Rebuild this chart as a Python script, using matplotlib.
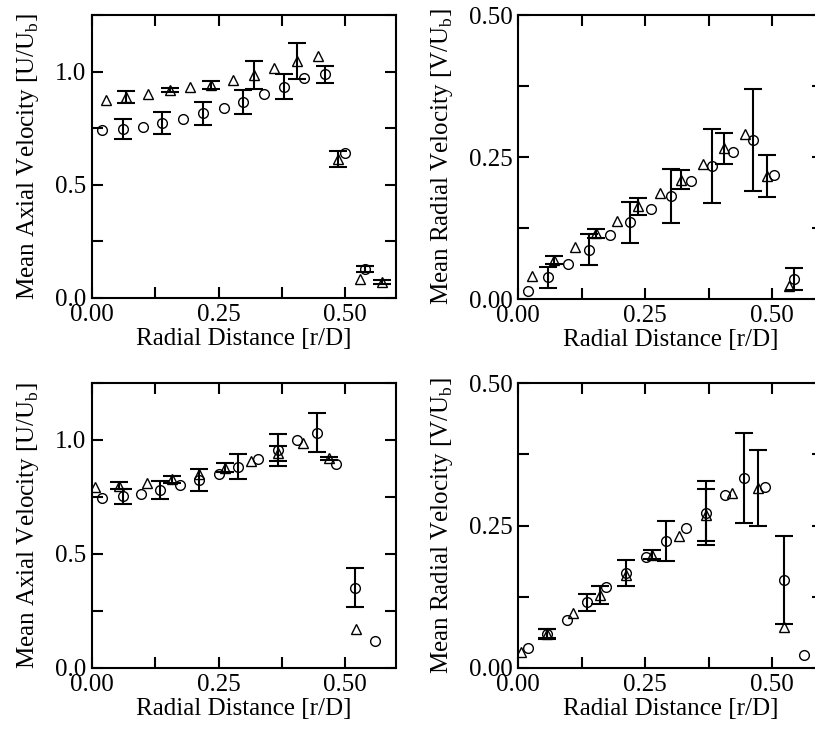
# Mean axial and radial velocity profiles vs radial distance,
# two data sets per panel (circles / triangles) with error bars.

import numpy as np
import matplotlib
matplotlib.use('Agg')
import matplotlib.pyplot as plt
from matplotlib.ticker import MultipleLocator

plt.rcParams['font.family'] = ['Liberation Serif', 'DejaVu Serif']
plt.rcParams['mathtext.fontset'] = 'custom'
plt.rcParams['mathtext.rm'] = 'Liberation Serif'
plt.rcParams['font.size'] = 18

nan = np.nan

# ---- top left: axial velocity, case 1 ----
tl_circ_x   = [0.020, 0.061, 0.100, 0.139, 0.179, 0.219, 0.260, 0.299, 0.339, 0.379, 0.418, 0.459, 0.499, 0.539]
tl_circ_y   = [0.743, 0.747, 0.757, 0.772, 0.791, 0.815, 0.838, 0.866, 0.899, 0.934, 0.972, 0.988, 0.640, 0.128]
tl_circ_err = [nan,   0.045, nan,   0.048, nan,   0.051, nan,   0.054, nan,   0.057, nan,   0.037, nan,   0.013]
tl_tri_x    = [0.027, 0.067, 0.110, 0.154, 0.193, 0.234, 0.278, 0.320, 0.360, 0.405, 0.446, 0.486, 0.529, 0.572]
tl_tri_y    = [0.875, 0.887, 0.900, 0.919, 0.931, 0.941, 0.963, 0.985, 1.015, 1.047, 1.069, 0.614, 0.084, 0.071]
tl_tri_err  = [nan,   0.027, nan,   0.009, nan,   0.018, nan,   0.060, nan,   0.080, nan,   0.037, nan,   0.008]

# ---- top right: radial velocity, case 1 ----
tr_circ_x   = [0.020, 0.059, 0.099, 0.140, 0.181, 0.221, 0.261, 0.301, 0.341, 0.382, 0.422, 0.463, 0.503, 0.543]
tr_circ_y   = [0.014, 0.038, 0.061, 0.087, 0.112, 0.135, 0.159, 0.181, 0.207, 0.234, 0.259, 0.280, 0.218, 0.035]
tr_circ_err = [nan,   0.019, nan,   0.028, nan,   0.036, nan,   0.048, nan,   0.065, nan,   0.090, nan,   0.020]
tr_tri_x    = [0.027, 0.070, 0.112, 0.153, 0.195, 0.237, 0.280, 0.321, 0.364, 0.406, 0.447, 0.490, 0.533]
tr_tri_y    = [0.041, 0.068, 0.092, 0.116, 0.138, 0.163, 0.186, 0.210, 0.237, 0.265, 0.290, 0.216, 0.023]
tr_tri_err  = [nan,   0.007, nan,   0.008, nan,   0.015, nan,   0.017, nan,   0.027, nan,   0.037, nan]

# ---- bottom left: axial velocity, case 2 ----
bl_circ_x   = [0.020, 0.061, 0.096, 0.135, 0.173, 0.211, 0.250, 0.288, 0.327, 0.368, 0.404, 0.444, 0.482, 0.520, 0.559]
bl_circ_y   = [0.747, 0.753, 0.765, 0.779, 0.803, 0.825, 0.853, 0.882, 0.916, 0.956, 1.000, 1.032, 0.894, 0.353, 0.119]
bl_circ_err = [nan,   0.032, nan,   0.039, nan,   0.047, nan,   0.055, nan,   0.070, nan,   0.085, nan,   0.087, nan]
bl_tri_x    = [0.005, 0.054, 0.108, 0.158, 0.211, 0.263, 0.314, 0.368, 0.416, 0.468, 0.521]
bl_tri_y    = [0.794, 0.800, 0.810, 0.828, 0.850, 0.879, 0.909, 0.941, 0.987, 0.920, 0.169]
bl_tri_err  = [nan,   0.015, nan,   0.015, nan,   0.019, nan,   0.034, nan,   0.007, nan]

# ---- bottom right: radial velocity, case 2 ----
br_circ_x   = [0.020, 0.057, 0.096, 0.135, 0.174, 0.212, 0.251, 0.291, 0.330, 0.369, 0.407, 0.445, 0.485, 0.523, 0.563]
br_circ_y   = [0.035, 0.060, 0.085, 0.115, 0.142, 0.166, 0.195, 0.223, 0.245, 0.272, 0.303, 0.334, 0.318, 0.154, 0.023]
br_circ_err = [nan,   0.009, nan,   0.015, nan,   0.023, nan,   0.035, nan,   0.056, nan,   0.079, nan,   0.077, nan]
br_tri_x    = [0.005, 0.057, 0.109, 0.161, 0.212, 0.264, 0.317, 0.369, 0.421, 0.472, 0.523]
br_tri_y    = [0.028, 0.060, 0.097, 0.128, 0.164, 0.199, 0.232, 0.268, 0.307, 0.316, 0.072]
br_tri_err  = [nan,   0.008, nan,   0.015, nan,   0.008, nan,   0.046, nan,   0.066, nan]

xlabel  = 'Radial Distance [r/D]'
ylab_u  = r'Mean Axial Velocity [U/U$_\mathrm{b}$]'
ylab_v  = r'Mean Radial Velocity [V/U$_\mathrm{b}$]'

W, H = 815, 731
fig = plt.figure(figsize=(W/100, H/100), dpi=100)

def px_axes(left, top, right, bottom):
    return fig.add_axes([left/W, 1 - bottom/H, (right-left)/W, (bottom-top)/H])

def draw_series(ax, x, y, err, marker):
    x = np.array(x); y = np.array(y); err = np.array(err)
    m = ~np.isnan(err)
    ax.errorbar(x[m], y[m], yerr=err[m], fmt='none', ecolor='black',
                elinewidth=1.5, capsize=6.5, capthick=1.5, zorder=2)
    ax.plot(x, y, linestyle='none', marker=marker, markersize=7,
            markerfacecolor='none', markeredgecolor='black',
            markeredgewidth=1.0, zorder=3)

def style_axes(ax, ymax, ymajor, fmt, ylab, ypad):
    ax.set_xlim(0, 0.6)
    ax.set_ylim(0, ymax)
    ax.xaxis.set_major_locator(MultipleLocator(0.25))
    ax.xaxis.set_minor_locator(MultipleLocator(0.125))
    ax.yaxis.set_major_locator(MultipleLocator(ymajor))
    ax.yaxis.set_minor_locator(MultipleLocator(ymajor/2))
    ax.xaxis.set_major_formatter(plt.FormatStrFormatter('%.2f'))
    ax.yaxis.set_major_formatter(plt.FormatStrFormatter(fmt))
    ax.tick_params(which='both', direction='in', top=True, right=True,
                   length=8, width=1.5, labelsize=18, pad=4)
    for s in ax.spines.values():
        s.set_linewidth(1.5)
    ax.set_xlabel(xlabel, fontsize=18, labelpad=2)
    ax.set_ylabel(ylab, fontsize=18, labelpad=ypad)

ax_tl = px_axes(92, 15, 396, 298)
ax_tr = px_axes(518, 15, 823, 299)
ax_bl = px_axes(92, 383, 396, 668)
ax_br = px_axes(518, 383, 823, 668)

draw_series(ax_tl, tl_circ_x, tl_circ_y, tl_circ_err, 'o')
draw_series(ax_tl, tl_tri_x, tl_tri_y, tl_tri_err, '^')
style_axes(ax_tl, 1.25, 0.5, '%.1f', ylab_u, 10)

draw_series(ax_tr, tr_circ_x, tr_circ_y, tr_circ_err, 'o')
draw_series(ax_tr, tr_tri_x, tr_tri_y, tr_tri_err, '^')
style_axes(ax_tr, 0.5, 0.25, '%.2f', ylab_v, 10)

draw_series(ax_bl, bl_circ_x, bl_circ_y, bl_circ_err, 'o')
draw_series(ax_bl, bl_tri_x, bl_tri_y, bl_tri_err, '^')
style_axes(ax_bl, 1.25, 0.5, '%.1f', ylab_u, 10)

draw_series(ax_br, br_circ_x, br_circ_y, br_circ_err, 'o')
draw_series(ax_br, br_tri_x, br_tri_y, br_tri_err, '^')
style_axes(ax_br, 0.5, 0.25, '%.2f', ylab_v, 10)

fig.savefig('out.png', dpi=100)
